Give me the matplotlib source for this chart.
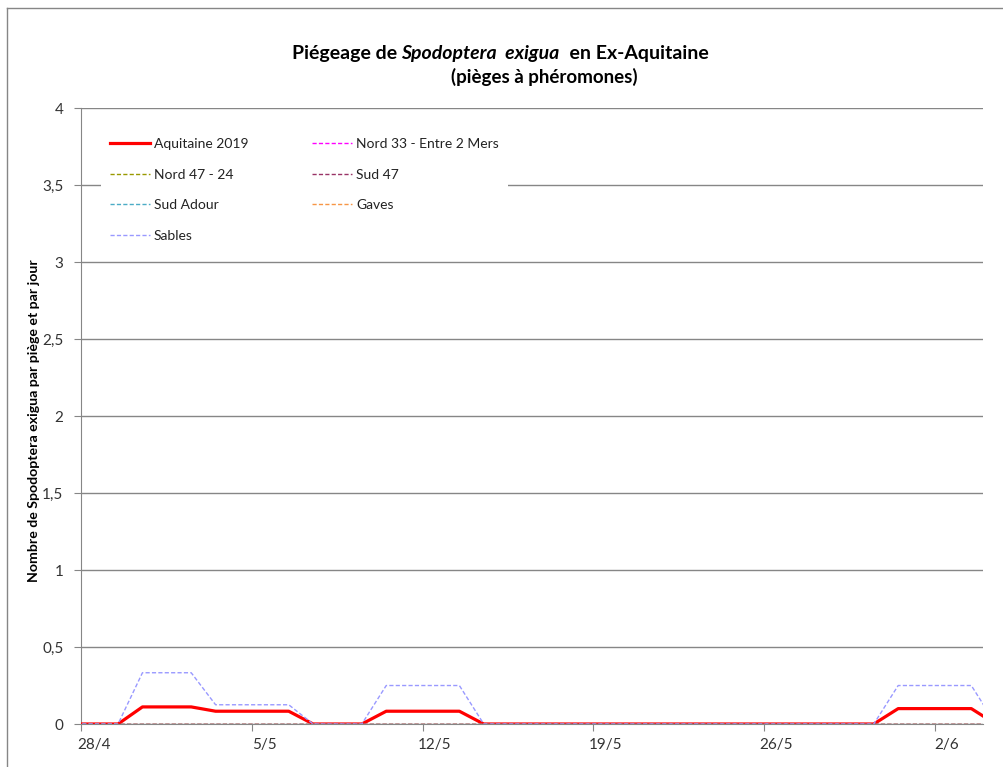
import numpy as np
import matplotlib
matplotlib.use("Agg")
import matplotlib.pyplot as plt
from matplotlib.lines import Line2D
from matplotlib.ticker import FixedLocator, FuncFormatter

# daily counts, day -1 = 27/4, day 0 = 28/4 ... day 37 = 4/6 (axis clips both ends)
days = np.arange(-1, 38)
aquitaine = [0, 0, 0, 0.111, 0.111, 0.111, 0.083, 0.083, 0.083, 0.083, 0, 0, 0,
             0.083, 0.083, 0.083, 0.083, 0, 0, 0, 0, 0, 0, 0, 0,
             0, 0, 0, 0, 0, 0, 0, 0, 0, 0.1, 0.1, 0.1, 0.1, 0]
sables = [0, 0, 0, 0.333, 0.333, 0.333, 0.125, 0.125, 0.125, 0.125, 0, 0, 0,
          0.25, 0.25, 0.25, 0.25, 0, 0, 0, 0, 0, 0, 0, 0,
          0, 0, 0, 0, 0, 0, 0, 0, 0, 0.25, 0.25, 0.25, 0.25, 0]
zeros = [0] * 39
nord33 = zeros
nord47 = zeros
sud47 = zeros
sud_adour = zeros
gaves = zeros

tick_days = [0, 7, 14, 21, 28, 35]
tick_labels = ["28/4", "5/5", "12/5", "19/5", "26/5", "2/6"]

plt.rcParams['font.family'] = ['Lato', 'DejaVu Sans']

fig = plt.figure(figsize=(10.04, 7.67), dpi=100)
ax = fig.add_axes([81.5 / 1004, 1 - 724 / 767, 902 / 1004, 615.7 / 767])

grey = "#868686"

# chart area border (left and top visible)
fig.add_artist(Line2D([7.5 / 1004, 7.5 / 1004], [0, 1 - 7.5 / 767], color=grey, lw=1))
fig.add_artist(Line2D([7.5 / 1004, 1], [1 - 7.5 / 767, 1 - 7.5 / 767], color=grey, lw=1))

series = [
    ("Aquitaine 2019", aquitaine, "#FF0000", "-", 2.3),
    ("Nord 33 - Entre 2 Mers", nord33, "#FF00FF", "--", 1.0),
    ("Nord 47 - 24", nord47, "#999900", "--", 1.0),
    ("Sud 47", sud47, "#993366", "--", 1.0),
    ("Sud Adour", sud_adour, "#4BACC6", "--", 1.0),
    ("Gaves", gaves, "#F79646", "--", 1.0),
    ("Sables", sables, "#9999FF", "--", 1.0),
]
handles = {}
for name, vals, col, ls, lw in series:
    ln, = ax.plot(days, vals, color=col, ls=ls, lw=lw, dashes=(3, 1.6) if ls == "--" else (None, None),
                  label=name, zorder=3, clip_on=True)
    handles[name] = ln

ax.set_xlim(-0.5, 36.5)
ax.set_ylim(0, 4)
ax.set_yticks(np.arange(0, 4.01, 0.5))
ax.yaxis.set_major_formatter(FuncFormatter(lambda v, p: ("%g" % v).replace(".", ",")))
ax.grid(axis="y", color=grey, lw=1)
ax.set_axisbelow(True)

# x ticks between categories, labels centred on dates
ax.xaxis.set_major_locator(FixedLocator([d - 0.5 for d in tick_days]))
ax.xaxis.set_major_formatter(FuncFormatter(lambda v, p: ""))
ax.xaxis.set_minor_locator(FixedLocator(tick_days))
ax.set_xticklabels(tick_labels, minor=True)
ax.tick_params(axis="x", which="minor", length=0, pad=10, labelsize=11, labelcolor="#333333")
ax.tick_params(axis="x", which="major", length=5, color=grey, direction="out")
ax.tick_params(axis="y", length=5, color=grey, pad=8, labelsize=11, labelcolor="#333333")

for s in ["top", "right"]:
    ax.spines[s].set_visible(False)
ax.spines["left"].set_color(grey)
ax.spines["bottom"].set_color(grey)

order = ["Aquitaine 2019", "Nord 47 - 24", "Sud Adour", "Sables",
         "Nord 33 - Entre 2 Mers", "Sud 47", "Gaves"]
leg = ax.legend([handles[n] for n in order], order, ncol=2, loc="upper left",
                bbox_to_anchor=(0.0216, 0.966), borderaxespad=0, fontsize=10,
                frameon=True, fancybox=False, framealpha=1, facecolor="white",
                edgecolor="none", handlelength=2.85, handletextpad=0.3,
                labelspacing=1.33, columnspacing=4.6, borderpad=0.65)
for t in leg.get_texts():
    t.set_color("#222222")

ax.set_ylabel("Nombre de Spodoptera exigua par piège et par jour", fontsize=10.2,
              fontweight="bold")
ax.yaxis.set_label_coords(40 / 1004, 1 - 421 / 767, transform=fig.transFigure)

# title in pieces (bold / bold italic)
fig.canvas.draw()
renderer = fig.canvas.get_renderer()
parts = [("Piégeage de ", "normal"), ("Spodoptera  exigua", "italic"), ("  en Ex-Aquitaine", "normal")]
texts = []
for txt, style in parts:
    t = fig.text(0, 1 - 59 / 767, txt, fontsize=14, fontweight="bold", style=style,
                 ha="left", va="baseline")
    texts.append(t)
widths = [t.get_window_extent(renderer).width for t in texts]
x = 500 - sum(widths) / 2
for t, w in zip(texts, widths):
    t.set_x(x / 1004)
    x += w
fig.text(544 / 1004, 1 - 82.5 / 767, "(pièges à phéromones)", fontsize=13.5, fontweight="bold",
         ha="center", va="baseline")

fig.savefig("out.png", dpi=100)
